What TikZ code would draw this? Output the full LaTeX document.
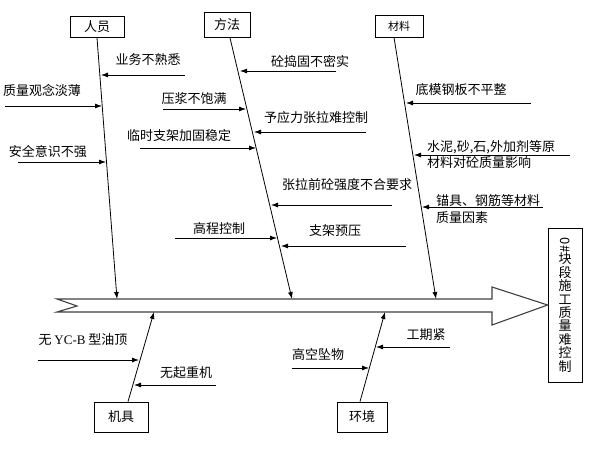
\documentclass[tikz,border=0pt]{standalone}
\usepackage{fontspec}
\usepackage{graphicx}
\setmainfont{Noto Sans CJK SC}
\newfontfamily\timesfont{Liberation Serif}
\usetikzlibrary{arrows.meta,positioning}

\begin{document}
\begin{tikzpicture}[
x=1pt, y=-1pt,
>={Latex[length=7pt,width=5pt]},
box/.style={
		draw=black,
		line width=0.8pt,
		inner sep=0pt,
		font=\fontsize{13}{15}\selectfont,
		},
cause/.style={
		inner sep=0pt,
		font=\fontsize{13}{16}\selectfont,
		},
bone/.style={->, line width=0.8pt},
spine/.style={draw=black!75, line width=1.1pt, fill=white}
]
\useasboundingbox (0,0) rectangle (600,450);

% categories
\node[box, minimum width=54, minimum height=21] (ry) at (97,27) {人员};
\node[box, minimum width=46, minimum height=25] (ff) at (227,25) {方法};
\node[box, minimum width=48, minimum height=22, font=\fontsize{11}{13}\selectfont] (cl) at (399,26) {材料};
\node[box, minimum width=54, minimum height=30] (jj) at (121,417) {机具};
\node[box, minimum width=50, minimum height=30] (hj) at (362,417) {环境};

% effect
\node[box, minimum width=34, minimum height=154, align=center,
  font=\fontsize{13}{13.4}\selectfont] (xg) at (565,305)
  {\rotatebox{-90}{0\#}\\块\\段\\施\\工\\质\\量\\难\\控\\制};

% spine
\coordinate (tip) at (xg.west);
\draw[spine] (57,299) -- (492,299) -- (492,287) -- (tip) -- (492,325)
  -- (492,312) -- (57,312) -- (77,306) -- cycle;

% main bones
\coordinate (ry-e) at (117,299);
\coordinate (ff-e) at (292,299);
\coordinate (cl-e) at (436,299);
\coordinate (jj-e) at (154,312);
\coordinate (hj-e) at (385,312);
\draw[bone] (ry.south) -- (ry-e);
\draw[bone] ([xshift=3pt]ff.south) -- (ff-e);
\draw[bone] ([xshift=-5pt]cl.south) -- (cl-e);
\draw[bone] ([xshift=7pt]jj.north) -- (jj-e);
\draw[bone] ([xshift=-2pt]hj.north) -- (hj-e);

% causes
\foreach \id/\txt/\tx/\ty/\ax/\bx/\ay in {
  ywbs/业务不熟悉/148/60/185/101/75,
  zlgn/质量观念淡薄/42/90/5/102/106,
  aqys/安全意识不强/48/152/18/106/162,
  yjbm/压浆不饱满/194/99/163/246/109,
  lszj/临时支架加固稳定/179/136/140/256/148,
  gckz/高程控制/219/229/175/277/238,
  dgbm/砼捣固不密实/310/62/336/240/71,
  yylz/予应力张拉难控制/316/118/366/254/132,
  zlqt/张拉前砼强度不合要求/347/185/392/271/205,
  zjyy/支架预压/335/231/406/281/246,
  dmgb/底模钢板不平整/461/90/531/406/103,
  wqzj/无起重机/186/373/216/134/385,
  gkzw/高空坠物/318/355/292/369/368,
  gqj/工期紧/426/335/450/376/347}
{
  \node[cause] (\id) at (\tx,\ty) {\txt};
  \coordinate (\id-s) at (\ax,\ay);
  \coordinate (\id-e) at (\bx,\ay);
  \draw[bone] (\id-s) -- (\id-e);
}

\node[cause, anchor=west, align=left] (swsm) at (427,155)
  {水泥,砂,石,外加剂等原\\材料对砼质量影响};
\coordinate (swsm-s) at (570,155);
\coordinate (swsm-e) at (414,155);
\draw[bone] (swsm-s) -- (swsm-e);

\node[cause, anchor=west, align=left, font=\fontsize{13}{17}\selectfont] (mjgj) at (436,209.5)
  {锚具、钢筋等材料\\质量因素};
\coordinate (mjgj-s) at (543,207);
\coordinate (mjgj-e) at (422,207);
\draw[bone] (mjgj-s) -- (mjgj-e);

\node[cause] (wyc) at (83,340) {无 {\timesfont YC-B} 型油顶};
\coordinate (wyc-s) at (38,360);
\coordinate (wyc-e) at (139,360);
\draw[bone] (wyc-s) -- (wyc-e);
\end{tikzpicture}
\end{document}
